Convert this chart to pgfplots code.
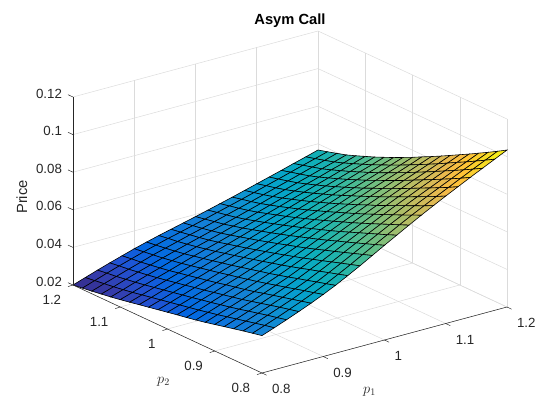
\documentclass[border=0pt]{standalone}
\usepackage{fontspec}
\setmainfont{Liberation Sans}
\usepackage{pgfplots}
\pgfplotsset{compat=1.18}
\definecolor{axgray}{rgb}{0.15,0.15,0.15}
\definecolor{gridgray}{rgb}{0.86,0.86,0.86}
\pgfplotstableread{
0.80 1.20 0.0200
0.82 1.20 0.0222
0.84 1.20 0.0244
0.86 1.20 0.0265
0.88 1.20 0.0285
0.90 1.20 0.0305
0.92 1.20 0.0323
0.94 1.20 0.0340
0.96 1.20 0.0356
0.98 1.20 0.0372
1.00 1.20 0.0388
1.02 1.20 0.0405
1.04 1.20 0.0422
1.06 1.20 0.0439
1.08 1.20 0.0457
1.10 1.20 0.0475
1.12 1.20 0.0493
1.14 1.20 0.0511
1.16 1.20 0.0530
1.18 1.20 0.0548
1.20 1.20 0.0567

0.80 1.18 0.0207
0.82 1.18 0.0229
0.84 1.18 0.0251
0.86 1.18 0.0272
0.88 1.18 0.0292
0.90 1.18 0.0312
0.92 1.18 0.0330
0.94 1.18 0.0348
0.96 1.18 0.0364
0.98 1.18 0.0381
1.00 1.18 0.0398
1.02 1.18 0.0416
1.04 1.18 0.0433
1.06 1.18 0.0451
1.08 1.18 0.0469
1.10 1.18 0.0488
1.12 1.18 0.0506
1.14 1.18 0.0525
1.16 1.18 0.0544
1.18 1.18 0.0562
1.20 1.18 0.0581

0.80 1.16 0.0214
0.82 1.16 0.0236
0.84 1.16 0.0257
0.86 1.16 0.0278
0.88 1.16 0.0298
0.90 1.16 0.0319
0.92 1.16 0.0337
0.94 1.16 0.0355
0.96 1.16 0.0373
0.98 1.16 0.0390
1.00 1.16 0.0408
1.02 1.16 0.0426
1.04 1.16 0.0444
1.06 1.16 0.0462
1.08 1.16 0.0481
1.10 1.16 0.0500
1.12 1.16 0.0519
1.14 1.16 0.0538
1.16 1.16 0.0558
1.18 1.16 0.0576
1.20 1.16 0.0596

0.80 1.14 0.0222
0.82 1.14 0.0243
0.84 1.14 0.0265
0.86 1.14 0.0286
0.88 1.14 0.0306
0.90 1.14 0.0326
0.92 1.14 0.0345
0.94 1.14 0.0364
0.96 1.14 0.0382
0.98 1.14 0.0400
1.00 1.14 0.0418
1.02 1.14 0.0437
1.04 1.14 0.0456
1.06 1.14 0.0475
1.08 1.14 0.0495
1.10 1.14 0.0514
1.12 1.14 0.0533
1.14 1.14 0.0552
1.16 1.14 0.0572
1.18 1.14 0.0591
1.20 1.14 0.0611

0.80 1.12 0.0230
0.82 1.12 0.0251
0.84 1.12 0.0273
0.86 1.12 0.0294
0.88 1.12 0.0314
0.90 1.12 0.0335
0.92 1.12 0.0354
0.94 1.12 0.0374
0.96 1.12 0.0392
0.98 1.12 0.0411
1.00 1.12 0.0431
1.02 1.12 0.0450
1.04 1.12 0.0470
1.06 1.12 0.0490
1.08 1.12 0.0510
1.10 1.12 0.0530
1.12 1.12 0.0550
1.14 1.12 0.0569
1.16 1.12 0.0590
1.18 1.12 0.0609
1.20 1.12 0.0630

0.80 1.10 0.0239
0.82 1.10 0.0260
0.84 1.10 0.0282
0.86 1.10 0.0303
0.88 1.10 0.0323
0.90 1.10 0.0344
0.92 1.10 0.0365
0.94 1.10 0.0385
0.96 1.10 0.0404
0.98 1.10 0.0424
1.00 1.10 0.0444
1.02 1.10 0.0465
1.04 1.10 0.0486
1.06 1.10 0.0506
1.08 1.10 0.0527
1.10 1.10 0.0547
1.12 1.10 0.0568
1.14 1.10 0.0588
1.16 1.10 0.0609
1.18 1.10 0.0629
1.20 1.10 0.0650

0.80 1.08 0.0249
0.82 1.08 0.0270
0.84 1.08 0.0292
0.86 1.08 0.0313
0.88 1.08 0.0334
0.90 1.08 0.0355
0.92 1.08 0.0376
0.94 1.08 0.0396
0.96 1.08 0.0417
0.98 1.08 0.0438
1.00 1.08 0.0459
1.02 1.08 0.0480
1.04 1.08 0.0502
1.06 1.08 0.0523
1.08 1.08 0.0544
1.10 1.08 0.0565
1.12 1.08 0.0586
1.14 1.08 0.0607
1.16 1.08 0.0628
1.18 1.08 0.0649
1.20 1.08 0.0670

0.80 1.06 0.0259
0.82 1.06 0.0280
0.84 1.06 0.0302
0.86 1.06 0.0323
0.88 1.06 0.0344
0.90 1.06 0.0366
0.92 1.06 0.0387
0.94 1.06 0.0409
0.96 1.06 0.0430
0.98 1.06 0.0452
1.00 1.06 0.0474
1.02 1.06 0.0496
1.04 1.06 0.0518
1.06 1.06 0.0540
1.08 1.06 0.0562
1.10 1.06 0.0584
1.12 1.06 0.0606
1.14 1.06 0.0627
1.16 1.06 0.0649
1.18 1.06 0.0670
1.20 1.06 0.0692

0.80 1.04 0.0269
0.82 1.04 0.0290
0.84 1.04 0.0312
0.86 1.04 0.0333
0.88 1.04 0.0355
0.90 1.04 0.0377
0.92 1.04 0.0399
0.94 1.04 0.0421
0.96 1.04 0.0443
0.98 1.04 0.0466
1.00 1.04 0.0489
1.02 1.04 0.0512
1.04 1.04 0.0535
1.06 1.04 0.0558
1.08 1.04 0.0581
1.10 1.04 0.0603
1.12 1.04 0.0626
1.14 1.04 0.0648
1.16 1.04 0.0670
1.18 1.04 0.0692
1.20 1.04 0.0714

0.80 1.02 0.0279
0.82 1.02 0.0300
0.84 1.02 0.0322
0.86 1.02 0.0344
0.88 1.02 0.0365
0.90 1.02 0.0388
0.92 1.02 0.0410
0.94 1.02 0.0434
0.96 1.02 0.0457
0.98 1.02 0.0481
1.00 1.02 0.0505
1.02 1.02 0.0529
1.04 1.02 0.0553
1.06 1.02 0.0577
1.08 1.02 0.0600
1.10 1.02 0.0624
1.12 1.02 0.0647
1.14 1.02 0.0669
1.16 1.02 0.0692
1.18 1.02 0.0715
1.20 1.02 0.0738

0.80 1.00 0.0289
0.82 1.00 0.0310
0.84 1.00 0.0332
0.86 1.00 0.0354
0.88 1.00 0.0376
0.90 1.00 0.0400
0.92 1.00 0.0423
0.94 1.00 0.0447
0.96 1.00 0.0471
0.98 1.00 0.0496
1.00 1.00 0.0521
1.02 1.00 0.0546
1.04 1.00 0.0571
1.06 1.00 0.0596
1.08 1.00 0.0620
1.10 1.00 0.0645
1.12 1.00 0.0668
1.14 1.00 0.0692
1.16 1.00 0.0715
1.18 1.00 0.0738
1.20 1.00 0.0762

0.80 0.98 0.0299
0.82 0.98 0.0320
0.84 0.98 0.0343
0.86 0.98 0.0365
0.88 0.98 0.0388
0.90 0.98 0.0411
0.92 0.98 0.0435
0.94 0.98 0.0460
0.96 0.98 0.0485
0.98 0.98 0.0512
1.00 0.98 0.0538
1.02 0.98 0.0564
1.04 0.98 0.0590
1.06 0.98 0.0616
1.08 0.98 0.0641
1.10 0.98 0.0666
1.12 0.98 0.0691
1.14 0.98 0.0715
1.16 0.98 0.0739
1.18 0.98 0.0763
1.20 0.98 0.0788

0.80 0.96 0.0308
0.82 0.96 0.0330
0.84 0.96 0.0353
0.86 0.96 0.0376
0.88 0.96 0.0399
0.90 0.96 0.0423
0.92 0.96 0.0448
0.94 0.96 0.0474
0.96 0.96 0.0500
0.98 0.96 0.0527
1.00 0.96 0.0555
1.02 0.96 0.0582
1.04 0.96 0.0609
1.06 0.96 0.0636
1.08 0.96 0.0662
1.10 0.96 0.0688
1.12 0.96 0.0713
1.14 0.96 0.0738
1.16 0.96 0.0763
1.18 0.96 0.0788
1.20 0.96 0.0813

0.80 0.94 0.0318
0.82 0.94 0.0341
0.84 0.94 0.0364
0.86 0.94 0.0387
0.88 0.94 0.0410
0.90 0.94 0.0435
0.92 0.94 0.0460
0.94 0.94 0.0487
0.96 0.94 0.0515
0.98 0.94 0.0543
1.00 0.94 0.0572
1.02 0.94 0.0600
1.04 0.94 0.0629
1.06 0.94 0.0656
1.08 0.94 0.0684
1.10 0.94 0.0710
1.12 0.94 0.0736
1.14 0.94 0.0762
1.16 0.94 0.0788
1.18 0.94 0.0813
1.20 0.94 0.0839

0.80 0.92 0.0329
0.82 0.92 0.0352
0.84 0.92 0.0375
0.86 0.92 0.0398
0.88 0.92 0.0422
0.90 0.92 0.0448
0.92 0.92 0.0474
0.94 0.92 0.0502
0.96 0.92 0.0530
0.98 0.92 0.0560
1.00 0.92 0.0590
1.02 0.92 0.0619
1.04 0.92 0.0648
1.06 0.92 0.0677
1.08 0.92 0.0705
1.10 0.92 0.0733
1.12 0.92 0.0760
1.14 0.92 0.0787
1.16 0.92 0.0813
1.18 0.92 0.0839
1.20 0.92 0.0866

0.80 0.90 0.0341
0.82 0.90 0.0364
0.84 0.90 0.0387
0.86 0.90 0.0411
0.88 0.90 0.0436
0.90 0.90 0.0462
0.92 0.90 0.0488
0.94 0.90 0.0517
0.96 0.90 0.0547
0.98 0.90 0.0578
1.00 0.90 0.0609
1.02 0.90 0.0639
1.04 0.90 0.0669
1.06 0.90 0.0699
1.08 0.90 0.0728
1.10 0.90 0.0757
1.12 0.90 0.0784
1.14 0.90 0.0812
1.16 0.90 0.0839
1.18 0.90 0.0866
1.20 0.90 0.0893

0.80 0.88 0.0353
0.82 0.88 0.0376
0.84 0.88 0.0400
0.86 0.88 0.0424
0.88 0.88 0.0449
0.90 0.88 0.0475
0.92 0.88 0.0503
0.94 0.88 0.0533
0.96 0.88 0.0563
0.98 0.88 0.0595
1.00 0.88 0.0627
1.02 0.88 0.0659
1.04 0.88 0.0690
1.06 0.88 0.0721
1.08 0.88 0.0751
1.10 0.88 0.0780
1.12 0.88 0.0809
1.14 0.88 0.0837
1.16 0.88 0.0865
1.18 0.88 0.0893
1.20 0.88 0.0920

0.80 0.86 0.0365
0.82 0.86 0.0388
0.84 0.86 0.0412
0.86 0.86 0.0437
0.88 0.86 0.0462
0.90 0.86 0.0489
0.92 0.86 0.0517
0.94 0.86 0.0548
0.96 0.86 0.0580
0.98 0.86 0.0613
1.00 0.86 0.0646
1.02 0.86 0.0679
1.04 0.86 0.0711
1.06 0.86 0.0743
1.08 0.86 0.0774
1.10 0.86 0.0804
1.12 0.86 0.0833
1.14 0.86 0.0862
1.16 0.86 0.0891
1.18 0.86 0.0919
1.20 0.86 0.0948

0.80 0.84 0.0377
0.82 0.84 0.0400
0.84 0.84 0.0425
0.86 0.84 0.0450
0.88 0.84 0.0475
0.90 0.84 0.0503
0.92 0.84 0.0532
0.94 0.84 0.0564
0.96 0.84 0.0597
0.98 0.84 0.0631
1.00 0.84 0.0665
1.02 0.84 0.0699
1.04 0.84 0.0733
1.06 0.84 0.0765
1.08 0.84 0.0797
1.10 0.84 0.0828
1.12 0.84 0.0858
1.14 0.84 0.0888
1.16 0.84 0.0918
1.18 0.84 0.0947
1.20 0.84 0.0976

0.80 0.82 0.0388
0.82 0.82 0.0412
0.84 0.82 0.0436
0.86 0.82 0.0462
0.88 0.82 0.0488
0.90 0.82 0.0516
0.92 0.82 0.0546
0.94 0.82 0.0579
0.96 0.82 0.0613
0.98 0.82 0.0649
1.00 0.82 0.0684
1.02 0.82 0.0719
1.04 0.82 0.0754
1.06 0.82 0.0788
1.08 0.82 0.0820
1.10 0.82 0.0852
1.12 0.82 0.0883
1.14 0.82 0.0914
1.16 0.82 0.0945
1.18 0.82 0.0975
1.20 0.82 0.1005

0.80 0.80 0.0399
0.82 0.80 0.0423
0.84 0.80 0.0448
0.86 0.80 0.0474
0.88 0.80 0.0501
0.90 0.80 0.0530
0.92 0.80 0.0561
0.94 0.80 0.0595
0.96 0.80 0.0630
0.98 0.80 0.0667
1.00 0.80 0.0704
1.02 0.80 0.0740
1.04 0.80 0.0776
1.06 0.80 0.0811
1.08 0.80 0.0845
1.10 0.80 0.0878
1.12 0.80 0.0910
1.14 0.80 0.0942
1.16 0.80 0.0973
1.18 0.80 0.1004
1.20 0.80 0.1035
}\pricetable
\begin{document}
\begin{tikzpicture}
\begin{axis}[
    x={(612.5pt,165pt)}, y={(-472.5pt,220pt)}, z={(0pt,1880pt)},
    xmin=0.8, xmax=1.2, ymin=0.8, ymax=1.2, zmin=0.02, zmax=0.12,
    clip=false,
    font=\fontsize{13.3}{15}\selectfont,
    axis line style={draw=none},
    grid=major,
    grid style={gridgray, line width=0.5pt},
    tick align=outside,
    xtick pos=left, ytick pos=left,
    xticklabel pos=left, yticklabel pos=left, zticklabel pos=left,
    major tick length=5pt,
    tick style={draw=none},
    xtick={0.8,0.9,1,1.1,1.2}, ytick={0.8,0.9,1,1.1,1.2},
    ztick={0.02,0.04,0.06,0.08,0.1,0.12},
    xticklabels={0.8,0.9,1,1.1,1.2}, yticklabels={0.8,0.9,1,1.1,1.2},
    zticklabels={0.02,0.04,0.06,0.08,0.1,0.12},
    ticklabel style={text=axgray},
    xticklabel style={anchor=north west, xshift=2pt, yshift=-6pt},
    yticklabel style={anchor=north east, xshift=-3.5pt, yshift=-5.5pt},
    zticklabel style={xshift=-3pt},
    title={\textbf{Asym Call}},
    title style={at={(rel axis cs:1,1,1)}, anchor=center, font=\fontsize{14.7}{16}\selectfont, xshift=-28pt, yshift=4.7pt},
    xlabel={$p_1$}, ylabel={$p_2$}, zlabel={Price},
    xlabel style={at={(rel axis cs:0.5,0,0)}, anchor=center, xshift=-15pt, yshift=-52pt, text=axgray, font=\fontsize{14}{16}\selectfont},
    ylabel style={at={(rel axis cs:0,0.5,0)}, anchor=center, xshift=-4pt, yshift=-52.5pt, text=axgray, font=\fontsize{14}{16}\selectfont},
    zlabel style={at={(rel axis cs:0,1,0.5)}, anchor=center, xshift=-6pt, yshift=51pt, font=\fontsize{14.7}{16}\selectfont, text=axgray},
    colormap={parula}{
        rgb=(0.2081,0.1663,0.5292)
        rgb=(0.2081,0.2386,0.6771)
        rgb=(0.1253,0.3242,0.8303)
        rgb=(0.0060,0.4086,0.8828)
        rgb=(0.0498,0.4586,0.8641)
        rgb=(0.0779,0.5040,0.8384)
        rgb=(0.0641,0.5570,0.8240)
        rgb=(0.0265,0.6137,0.8135)
        rgb=(0.0228,0.6535,0.7768)
        rgb=(0.0590,0.6838,0.7254)
        rgb=(0.1453,0.7098,0.6646)
        rgb=(0.2586,0.7317,0.5954)
        rgb=(0.3953,0.7459,0.5244)
        rgb=(0.5300,0.7491,0.4661)
        rgb=(0.6473,0.7456,0.4188)
        rgb=(0.7525,0.7384,0.3768)
        rgb=(0.8507,0.7299,0.3360)
        rgb=(0.9450,0.7261,0.2886)
        rgb=(0.9990,0.7653,0.2164)
        rgb=(0.9789,0.8271,0.1633)
        rgb=(0.9589,0.8949,0.1132)
        rgb=(0.9763,0.9831,0.0538)
    },
]
\addplot3[surf, shader=faceted, faceted color=black, line width=0.6pt] table[x index=0, y index=1, z index=2] {\pricetable};
\coordinate (fc) at (axis cs:0.8,0.8,0.02);
\draw[axgray, line width=0.5pt] (axis cs:0.8,0.8,0.02) -- (axis cs:1.2,0.8,0.02);
\draw[axgray, line width=0.5pt] (axis cs:0.8,0.8,0.02) -- (axis cs:0.8,1.2,0.02);
\draw[axgray, line width=0.5pt] (axis cs:0.8,1.2,0.02) -- (axis cs:0.8,1.2,0.12);
% rulers only on the front edges, so the short ticks are drawn here
\pgfplotsinvokeforeach{0.02,0.04,0.06,0.08,0.1,0.12}{
    \draw[axgray, line width=0.5pt] (axis cs:0.8,1.2,#1) -- ++(-5pt,2.3pt);
}
\pgfplotsinvokeforeach{0.8,0.9,1,1.1,1.2}{
    \draw[axgray, line width=0.5pt] (axis cs:#1,0.8,0.02) -- ++(4.6pt,-2.2pt);
    \draw[axgray, line width=0.5pt] (axis cs:0.8,#1,0.02) -- ++(-5pt,-1.6pt);
}
\end{axis}
\pgfresetboundingbox
\path[use as bounding box] ([shift={(-262pt,-47pt)}]fc) rectangle ([shift={(298pt,373pt)}]fc);
\end{tikzpicture}
\end{document}
